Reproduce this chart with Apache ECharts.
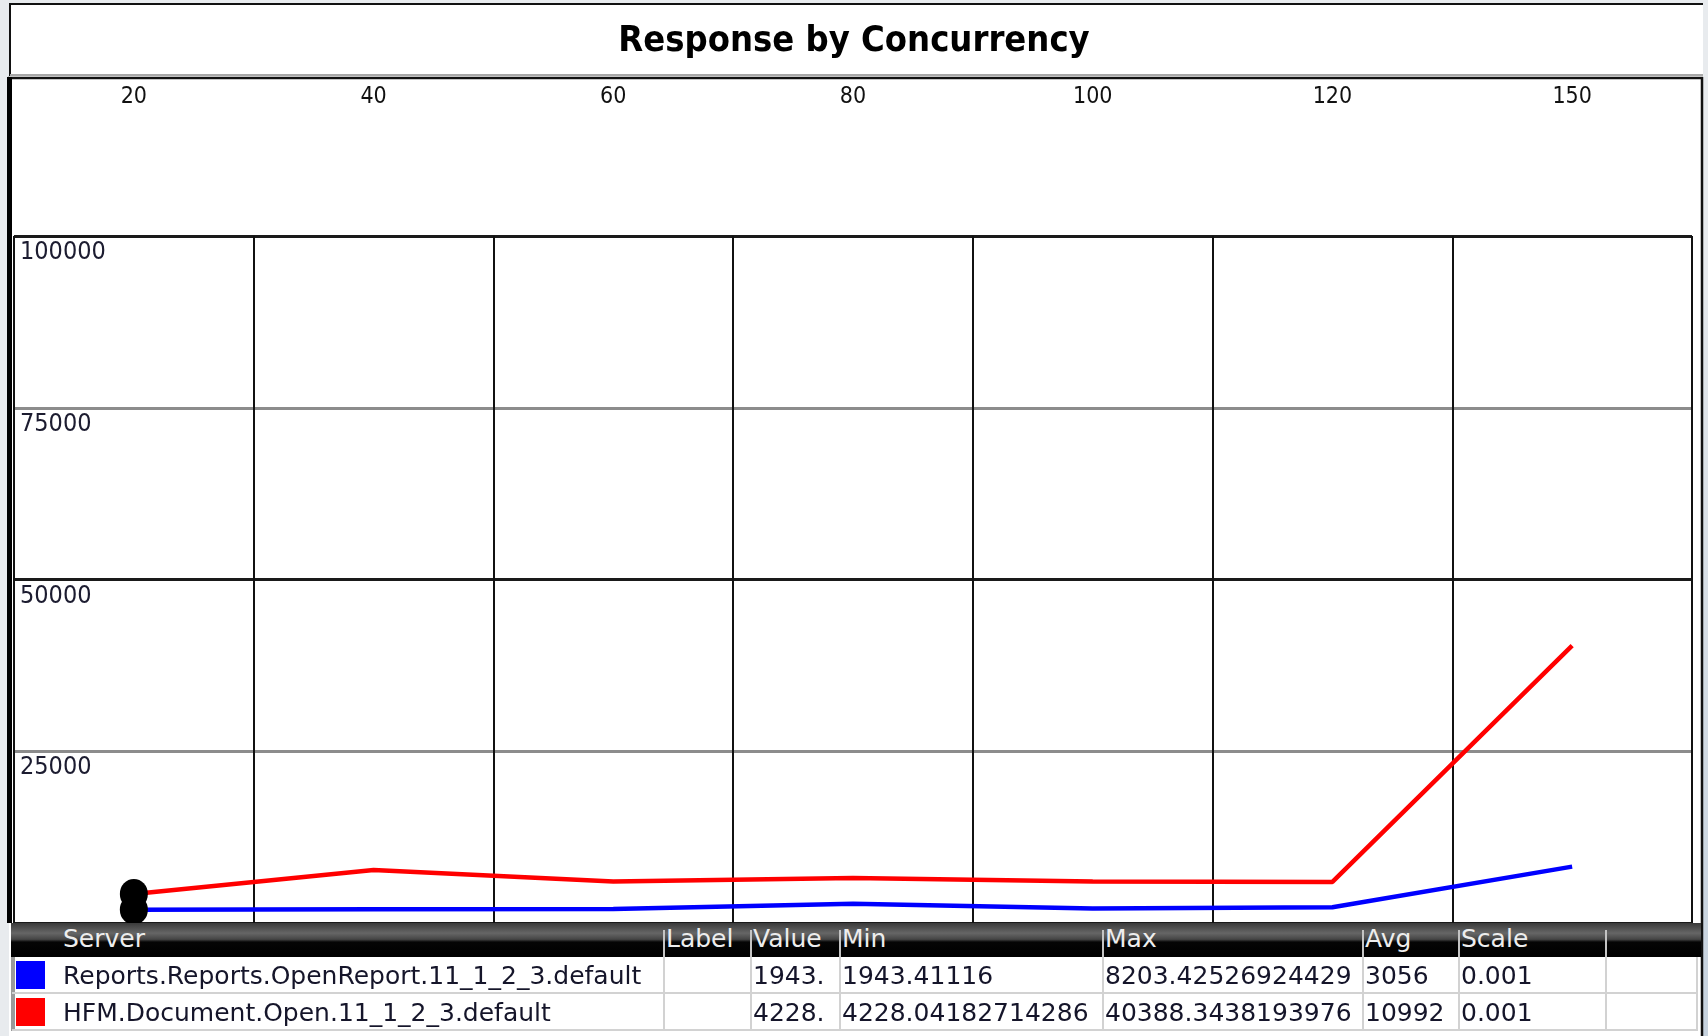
<!doctype html>
<html lang="en">
<head>
    <meta charset="UTF-8">
    <title>Response by Concurrency</title>
    <script src="https://cdn.jsdelivr.net/npm/echarts@6/dist/echarts.min.js"></script>
    <style>
        body { margin: 0; background: #e8ebee; }
        #wrap { position: relative; width: 1708px; height: 1036px; overflow: hidden; background: #e8ebee; }
        #edge { position: absolute; left: 1703px; top: 300px; width: 5px; height: 736px; background: linear-gradient(to bottom, #e3e7eb, #c6d2de); }
        #panel { position: absolute; left: 9px; top: 3px; width: 1694px; height: 1033px; background: #fff; }
        #main { position: absolute; left: 0; top: 0; width: 1708px; height: 1036px; }
        #table { position: absolute; left: 0; top: 0; width: 1708px; height: 1036px; pointer-events: none; }
        .tx { position: absolute; white-space: nowrap; font-family: 'DejaVu Sans', sans-serif; font-size: 25px; }
        .ln { position: absolute; }
    </style>
</head>
<body>
<div id="wrap">
    <div id="edge"></div>
    <div id="panel"></div>
    <div id="main"></div>
    <div id="table"></div>
</div>
<script>
    // chart data
    var concurrency = ['20', '40', '60', '80', '100', '120', '150'];
    var reportsOpen = [1943.41, 2000, 2050, 2800, 2100, 2300, 8203.43];
    var hfmOpen = [4228.04, 7700, 6050, 6550, 6050, 5980, 40388.34];
    var yMin = 0, yMax = 100000, yStep = 25000;

    // table under the chart
    var headers = ['Server', 'Label', 'Value', 'Min', 'Max', 'Avg', 'Scale', ''];
    var seriesNames = ['Reports.Reports.OpenReport.11_1_2_3.default', 'HFM.Document.Open.11_1_2_3.default'];
    var seriesColors = ['#0000ff', '#ff0000'];
    var labelCol = ['', ''];
    var valueCol = ['1943.', '4228.'];
    var minCol = ['1943.41116', '4228.04182714286'];
    var maxCol = ['8203.42526924429', '40388.3438193976'];
    var avgCol = ['3056', '10992'];
    var scaleCol = ['0.001', '0.001'];

    var FONT = "'DejaVu Sans Condensed', 'DejaVu Sans', sans-serif";

    function firstDot(vals) {
        return vals.map(function (v, i) {
            if (i === 0) {
                return { value: v, symbol: 'circle', symbolSize: [28, 30], itemStyle: { color: '#000' } };
            }
            return { value: v, symbol: 'none' };
        });
    }

    function hline(x1, x2, y, color, w) {
        return { type: 'line', z: 100, shape: { x1: x1, y1: y, x2: x2, y2: y }, style: { stroke: color, lineWidth: w } };
    }
    function vline(x, y1, y2, color, w) {
        return { type: 'line', z: 100, shape: { x1: x, y1: y1, x2: x, y2: y2 }, style: { stroke: color, lineWidth: w } };
    }

    var myChart = echarts.init(document.getElementById('main'), null, { renderer: 'canvas' });

    var option = {
        animation: false,
        title: {
            text: 'Response by Concurrency',
            left: 'center',
            top: 24,
            padding: 0,
            textStyle: { fontFamily: FONT, fontSize: 36, fontWeight: 'bold', color: '#000' }
        },
        grid: { left: 14, right: 16, top: 236, bottom: 113 },
        xAxis: {
            type: 'category',
            position: 'top',
            data: concurrency,
            boundaryGap: true,
            axisLine: { show: false },
            axisTick: { show: false },
            axisLabel: { interval: 0, margin: 139, verticalAlign: 'middle', fontFamily: FONT, fontSize: 23, color: '#111' },
            splitLine: { show: true, interval: 0, lineStyle: { color: '#111', width: 2 } }
        },
        yAxis: {
            type: 'value',
            min: yMin,
            max: yMax,
            interval: yStep,
            axisLine: { show: false },
            axisTick: { show: false },
            axisLabel: {
                inside: true, showMinLabel: false, verticalAlign: 'top', margin: 6,
                padding: [4, 0, 0, 0], fontFamily: FONT, fontSize: 25, color: '#1c1c30',
                formatter: function (v) { return String(v); }
            },
            splitLine: { lineStyle: { color: ['#1a1a1a', '#8c8c8c'], width: 3 } }
        },
        series: [
            {
                name: seriesNames[1], type: 'line', data: firstDot(hfmOpen), showSymbol: true,
                lineStyle: { color: seriesColors[1], width: 4.5 }, itemStyle: { color: seriesColors[1] }
            },
            {
                name: seriesNames[0], type: 'line', data: firstDot(reportsOpen), showSymbol: true,
                lineStyle: { color: seriesColors[0], width: 4.5 }, itemStyle: { color: seriesColors[0] }
            }
        ],
        graphic: [
            hline(9, 1703, 4, '#111', 2),
            vline(10, 3, 76, '#111', 2),
            hline(10, 1703, 75, '#a8a8a8', 2),
            hline(8, 1703, 78, '#111', 2.5),
            vline(9.5, 77, 923, '#000', 5),
            vline(1702, 77, 1036, '#111', 2.5)
        ]
    };

    myChart.setOption(option);

    // data table drawn as html
    var cols = [12, 663, 750, 839, 1102, 1362, 1458, 1605, 1696];
    var tbl = document.getElementById('table');
    function box(cls, css, text) {
        var d = document.createElement('div');
        d.className = cls;
        for (var k in css) d.style[k] = css[k];
        if (text !== undefined) d.textContent = text;
        tbl.appendChild(d);
        return d;
    }

    box('ln', { left: '11px', top: '923px', width: '1690px', height: '34px',
        background: 'linear-gradient(to bottom, #3a3a3a 0%, #666 30%, #454545 48%, #050505 56%, #000 100%)' });
    headers.forEach(function (h, i) {
        if (i > 0) box('ln', { left: cols[i] + 'px', top: '930px', width: '2px', height: '27px', background: '#c4c4c4' });
        if (h) box('tx', { left: (i === 0 ? 63 : cols[i] + 3) + 'px', top: '923px', height: '34px', lineHeight: '32px', color: '#ededed' }, h);
    });

    var rowTop = [957, 994], rowH = [37, 37];
    box('ln', { left: '11px', top: '957px', width: '4px', height: '74px', background: '#9a9a9a' });
    for (var r = 0; r < 2; r++) {
        var cells = [seriesNames[r], labelCol[r], valueCol[r], minCol[r], maxCol[r], avgCol[r], scaleCol[r], ''];
        var t = rowTop[r], h = rowH[r];
        box('ln', { left: '12px', top: (t + h - 2) + 'px', width: (cols[8] - 10) + 'px', height: '2px', background: '#d2d2d2' });
        box('ln', { left: '16px', top: (t + 4) + 'px', width: '29px', height: '28px', background: seriesColors[r] });
        for (var c = 0; c < cells.length; c++) {
            if (c > 0) box('ln', { left: cols[c] + 'px', top: t + 'px', width: '2px', height: h + 'px', background: '#d2d2d2' });
            if (cells[c]) box('tx', { left: (c === 0 ? 63 : cols[c] + 3) + 'px', top: t + 'px', height: h + 'px', lineHeight: h + 'px', color: '#15152a' }, cells[c]);
        }
        box('ln', { left: cols[8] + 'px', top: t + 'px', width: '2px', height: h + 'px', background: '#d2d2d2' });
    }
</script>
</body>
</html>
